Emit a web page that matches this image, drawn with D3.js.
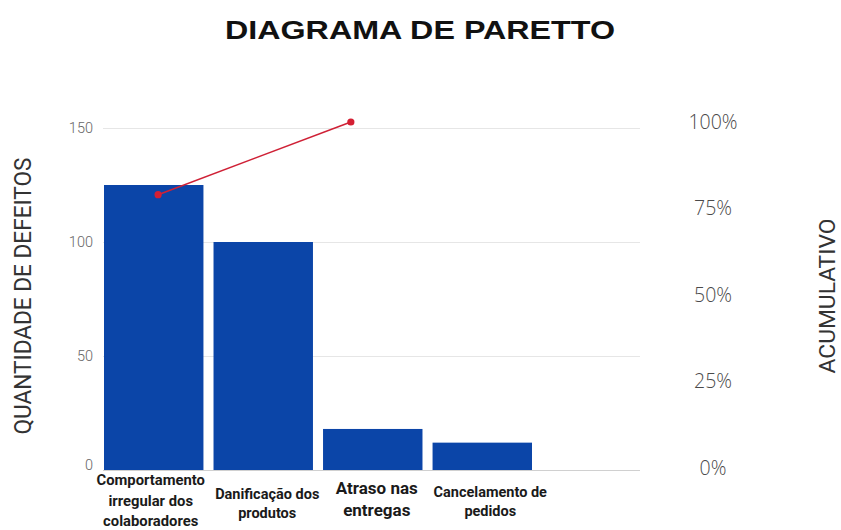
<!DOCTYPE html>
<html>
<head>
<meta charset="utf-8">
<script src="https://cdn.jsdelivr.net/npm/d3@7/dist/d3.min.js"></script>
<style>
  html, body { margin: 0; padding: 0; background: #fff; }
  svg { display: block; }
</style>
</head>
<body>
<svg id="chart" width="841" height="530"></svg>
<script>
// ---- data ----
const categories = [
  ["Comportamento", "irregular dos", "colaboradores"],
  ["Danificação dos", "produtos"],
  ["Atraso nas", "entregas"],
  ["Cancelamento de", "pedidos"]
];
const defects = [125, 100, 18, 12];
const leftTicks = [0, 50, 100, 150];
const rightTicks = [0, 25, 50, 75, 100];
const cumulative = [79, 100];
const cumulativeAt = [0.04, 1.8];       // category index position of each point

// ---- styles (kept apart from data) ----
const labelSizes = [14.8, 14.5, 17, 14.5];
const labelBase = [485, 499, 494, 497];
const labelGap = [20.5, 18.5, 22, 18.5];
const labelShift = [-3, 4, 4, 8];

const svg = d3.select("#chart");
const plotLeft = 103, plotRight = 640;

const keys = categories.map((c, i) => "c" + i);
const x = d3.scaleBand().domain(keys).range([104, 532]).paddingInner(0.092).paddingOuter(0);
const y = d3.scaleLinear().domain([0, 150]).range([470, 128]);
const yR = d3.scaleLinear().domain([0, 100]).range([468, 122]);
const xIdx = d3.scaleLinear().domain([0, 3])
  .range([x(keys[0]) + x.bandwidth() / 2, x(keys[3]) + x.bandwidth() / 2]);

// title
svg.append("text")
  .attr("x", 420).attr("y", 39)
  .attr("text-anchor", "middle")
  .attr("font-family", "'Liberation Sans', Arial, sans-serif")
  .attr("font-weight", 700)
  .attr("font-size", 25)
  .attr("fill", "#111")
  .attr("textLength", 390).attr("lengthAdjust", "spacingAndGlyphs")
  .text("DIAGRAMA DE PARETTO");

// gridlines
const grid = svg.append("g")
  .attr("transform", `translate(${plotLeft},0)`)
  .call(d3.axisLeft(y).tickValues(leftTicks).tickSize(-(plotRight - plotLeft)).tickFormat(""));
grid.select(".domain").remove();
grid.selectAll(".tick line").attr("stroke", d => d === 0 ? "#d0d0d0" : "#e6e6e6").attr("stroke-width", 1);

// left axis labels
const yAxis = svg.append("g")
  .attr("transform", `translate(${plotLeft},0)`)
  .call(d3.axisLeft(y).tickValues(leftTicks).tickSize(0).tickPadding(10));
yAxis.select(".domain").remove();
yAxis.selectAll("text")
  .attr("font-family", "Roboto, sans-serif")
  .attr("font-weight", 300)
  .attr("font-size", 14.5)
  .attr("fill", "#666")
  .attr("dy", (d) => d === 0 ? "-0.05em" : "0.32em");

// right axis labels
const yAxisR = svg.append("g")
  .attr("transform", `translate(713,0)`)
  .call(d3.axisRight(yR).tickValues(rightTicks).tickSize(0).tickPadding(0).tickFormat(d => d + "%"));
yAxisR.select(".domain").remove();
yAxisR.selectAll("text")
  .attr("text-anchor", "middle")
  .attr("font-family", "'Open Sans', sans-serif")
  .attr("font-weight", 300)
  .attr("font-size", 19.5)
  .attr("fill", "#4a4a4a");

// bars
svg.append("g").selectAll("rect")
  .data(defects)
  .join("rect")
  .attr("x", (d, i) => x(keys[i]))
  .attr("y", d => y(d))
  .attr("width", x.bandwidth())
  .attr("height", d => y(0) - y(d))
  .attr("fill", "#0b45a8");

// x labels
const xl = svg.append("g");
categories.forEach((lines, i) => {
  const t = xl.append("text")
    .attr("text-anchor", "middle")
    .attr("font-family", "Roboto, sans-serif")
    .attr("font-weight", 700)
    .attr("font-size", labelSizes[i])
    .attr("fill", "#1a1a1a");
  lines.forEach((ln, j) => {
    t.append("tspan")
      .attr("x", x(keys[i]) + x.bandwidth() / 2 + labelShift[i])
      .attr("y", labelBase[i] + j * labelGap[i])
      .text(ln);
  });
});

// cumulative line
const pts = cumulative.map((v, i) => [xIdx(cumulativeAt[i]), yR(v)]);
svg.append("path")
  .attr("d", d3.line()(pts))
  .attr("fill", "none")
  .attr("stroke", "#cf2136")
  .attr("stroke-width", 1.6);
svg.append("g").selectAll("circle")
  .data(pts)
  .join("circle")
  .attr("cx", d => d[0]).attr("cy", d => d[1])
  .attr("r", 3.6)
  .attr("fill", "#d41f33");

// axis titles
svg.append("text")
  .attr("transform", "translate(31,296) rotate(-90)")
  .attr("text-anchor", "middle")
  .attr("font-family", "Roboto, sans-serif")
  .attr("font-size", 24)
  .attr("fill", "#333")
  .attr("textLength", 277).attr("lengthAdjust", "spacingAndGlyphs")
  .text("QUANTIDADE DE DEFEITOS");

svg.append("text")
  .attr("transform", "translate(835,296) rotate(-90)")
  .attr("text-anchor", "middle")
  .attr("font-family", "Roboto, sans-serif")
  .attr("font-size", 22)
  .attr("fill", "#333")
  .attr("textLength", 155).attr("lengthAdjust", "spacingAndGlyphs")
  .text("ACUMULATIVO");
</script>
</body>
</html>
